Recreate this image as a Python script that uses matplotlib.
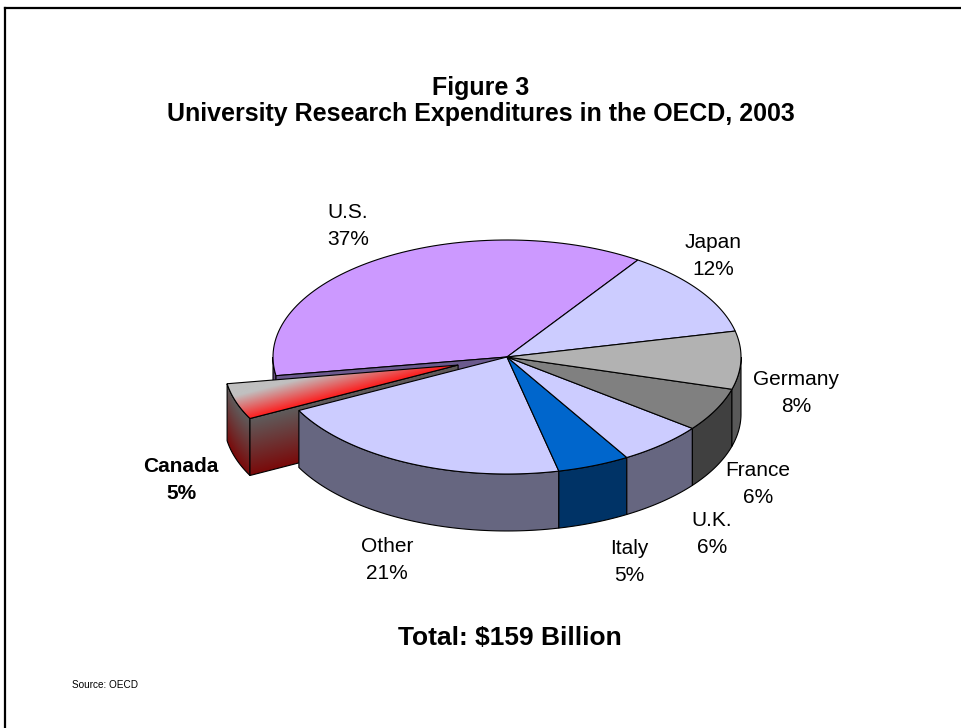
import numpy as np
import matplotlib.pyplot as plt
from matplotlib.patches import Polygon
from matplotlib.lines import Line2D
from matplotlib.colors import to_rgb

plt.rcParams['font.family'] = ['Liberation Sans', 'DejaVu Sans']

# slices, counter-clockwise starting at the U.S./Japan boundary
countries = ['U.S.', 'Canada', 'Other', 'Italy', 'U.K.', 'France', 'Germany', 'Japan']
shares = [37, 5, 21, 5, 6, 6, 8, 12]
top_colors = ['#CC99FF', '#C0C0C0', '#CCCCFF', '#0066CC', '#CCCCFF', '#808080', '#B2B2B2', '#CCCCFF']
side_colors = ['#664D80', '#606060', '#666680', '#003366', '#666680', '#404040', '#595959', '#666680']
exploded = 'Canada'

# label centres in pixels (x, y from top)
label_px = [(348, 226), (181, 480), (387, 560), (629, 562), (712, 534),
            (758, 484), (796, 393), (713, 256)]

W, H = 961, 728
cx, cy = 507, 357        # pie centre in pixels
rx, ry = 234, 117        # ellipse radii in pixels
depth = 0.487            # wall height in circle units
start = 56.0
explode_r = 0.22

fig = plt.figure(figsize=(W / 100, H / 100), dpi=100)
ax = fig.add_axes([0, 0, 1, 1])
ax.set_xlim(-cx / rx, (W - cx) / rx)
ax.set_ylim(-(H - cy) / ry, cy / ry)
ax.axis('off')

cum = np.concatenate([[0], np.cumsum(shares)])
theta1 = start + 3.6 * cum[:-1]
theta2 = start + 3.6 * cum[1:]


def arc(a, b, n=80):
    t = np.radians(np.linspace(a, b, n))
    return np.cos(t), np.sin(t)


def top_face(a, b, ox=0.0, oy=0.0):
    xs, ys = arc(a, b)
    return np.column_stack([np.r_[ox, xs + ox], np.r_[oy, ys + oy]])


def outer_wall(a, b, ox=0.0, oy=0.0):
    lo, hi = max(a, 180), min(b, 360)
    if hi <= lo:
        return None
    xs, ys = arc(lo, hi)
    top = np.column_stack([xs + ox, ys + oy])
    bot = np.column_stack([xs + ox, ys + oy - depth])[::-1]
    return np.vstack([top, bot])


def radial_wall(a, ox=0.0, oy=0.0):
    c, s = np.cos(np.radians(a)), np.sin(np.radians(a))
    return np.array([[ox, oy], [ox + c, oy + s], [ox + c, oy + s - depth], [ox, oy - depth]])


def draw_poly(pts, fc, z):
    ax.add_patch(Polygon(pts, closed=True, facecolor=fc, edgecolor='black', lw=0.8, zorder=z))


def gradient_fill(pts, colour_fn, z):
    patch = Polygon(pts, closed=True, facecolor='none', edgecolor='black', lw=0.8, zorder=z + 0.1)
    ax.add_patch(patch)
    x0, y0 = pts.min(axis=0)
    x1, y1 = pts.max(axis=0)
    gx, gy = np.meshgrid(np.linspace(x0, x1, 300), np.linspace(y0, y1, 300))
    img = colour_fn(gx, gy)
    im = ax.imshow(img, extent=[x0, x1, y0, y1], origin='lower', aspect='auto',
                   interpolation='bilinear', zorder=z)
    im.set_clip_path(patch)


def blend(c0, c1, t):
    c0, c1 = np.array(to_rgb(c0)), np.array(to_rgb(c1))
    t = np.clip(t, 0, 1)[..., None]
    return c0 * (1 - t) + c1 * t


z = 1
idx = {name: i for i, name in enumerate(countries)}

# back slices: U.S. and Japan
for name in ['U.S.', 'Japan']:
    i = idx[name]
    w = outer_wall(theta1[i], theta2[i])
    if w is not None:
        draw_poly(w, side_colors[i], z)
    draw_poly(top_face(theta1[i], theta2[i]), top_colors[i], z + 1)
    z += 2
i = idx['U.S.']
draw_poly(radial_wall(theta2[i]), '#6B5A8E', z)
z += 1

# exploded Canada slice with gradient shading
i = idx[exploded]
mid = np.radians((theta1[i] + theta2[i]) / 2)
ox, oy = explode_r * np.cos(mid), explode_r * np.sin(mid)

ow = outer_wall(theta1[i], theta2[i], ox, oy)
ax_arc, ay_arc = arc(theta1[i], theta2[i])
order = np.argsort(ax_arc + ox)
edge_x, edge_y = (ax_arc + ox)[order], (ay_arc + oy)[order]


def wall_colour_outer(gx, gy):
    t = (np.interp(gx, edge_x, edge_y) - gy) / depth
    return blend('#5E5E5E', '#7A0A0A', t)


gradient_fill(ow, wall_colour_outer, z)
z += 1

rw = radial_wall(theta2[i], ox, oy)
rx0, ry0 = rw[0]
rx1, ry1 = rw[1]


def wall_colour_radial(gx, gy):
    top_y = ry0 + (gx - rx0) * (ry1 - ry0) / (rx1 - rx0)
    t = (top_y - gy) / depth
    return blend('#5E5E5E', '#7A0A0A', t)


gradient_fill(rw, wall_colour_radial, z)
z += 1

tf = top_face(theta1[i], theta2[i], ox, oy)
p1 = np.array([rx0 * rx, ry0 * ry])
p2 = np.array([rx1 * rx, ry1 * ry])
d = p2 - p1
nrm = np.array([-d[1], d[0]]) / np.hypot(*d)
far = np.array([(np.cos(np.radians(theta1[i])) + ox) * rx, (np.sin(np.radians(theta1[i])) + oy) * ry])
if np.dot(far - p1, nrm) < 0:
    nrm = -nrm


def top_colour(gx, gy):
    dist = (gx * rx - p1[0]) * nrm[0] + (gy * ry - p1[1]) * nrm[1]
    return blend('#FF1A1A', '#C0C0C0', dist / 26)


gradient_fill(tf, top_colour, z)
z += 1

# front slices
for name in ['Other', 'Italy', 'U.K.', 'France', 'Germany']:
    i = idx[name]
    w = outer_wall(theta1[i], theta2[i])
    if w is not None:
        draw_poly(w, side_colors[i], z)
    z += 1
for name in ['Other', 'Italy', 'U.K.', 'France', 'Germany']:
    i = idx[name]
    draw_poly(top_face(theta1[i], theta2[i]), top_colors[i], z)
    z += 1

# slice labels
for name, share, (px, py) in zip(countries, shares, label_px):
    weight = 'bold' if name == exploded else 'normal'
    fig.text(px / W, 1 - py / H, f'{name}\n{share}%', ha='center', va='center',
             fontsize=15, fontweight=weight, linespacing=1.48, zorder=50)

fig.text(481 / W, 1 - 88 / H, 'Figure 3', ha='center', va='center',
         fontsize=18, fontweight='bold')
fig.text(481 / W, 1 - 114 / H, 'University Research Expenditures in the OECD, 2003',
         ha='center', va='center', fontsize=18, fontweight='bold')
fig.text(510 / W, 1 - 638 / H, 'Total: $159 Billion', ha='center', va='center',
         fontsize=19, fontweight='bold')
fig.text(72 / W, 1 - 685 / H, 'Source: OECD', ha='left', va='center', fontsize=7.2)

# frame along the top and left edges
fig.add_artist(Line2D([5 / W, 1], [1 - 8 / H, 1 - 8 / H], color='black', lw=1.6))
fig.add_artist(Line2D([5 / W, 5 / W], [0, 1 - 8 / H], color='black', lw=1.6))

fig.savefig('out.png', dpi=100)
